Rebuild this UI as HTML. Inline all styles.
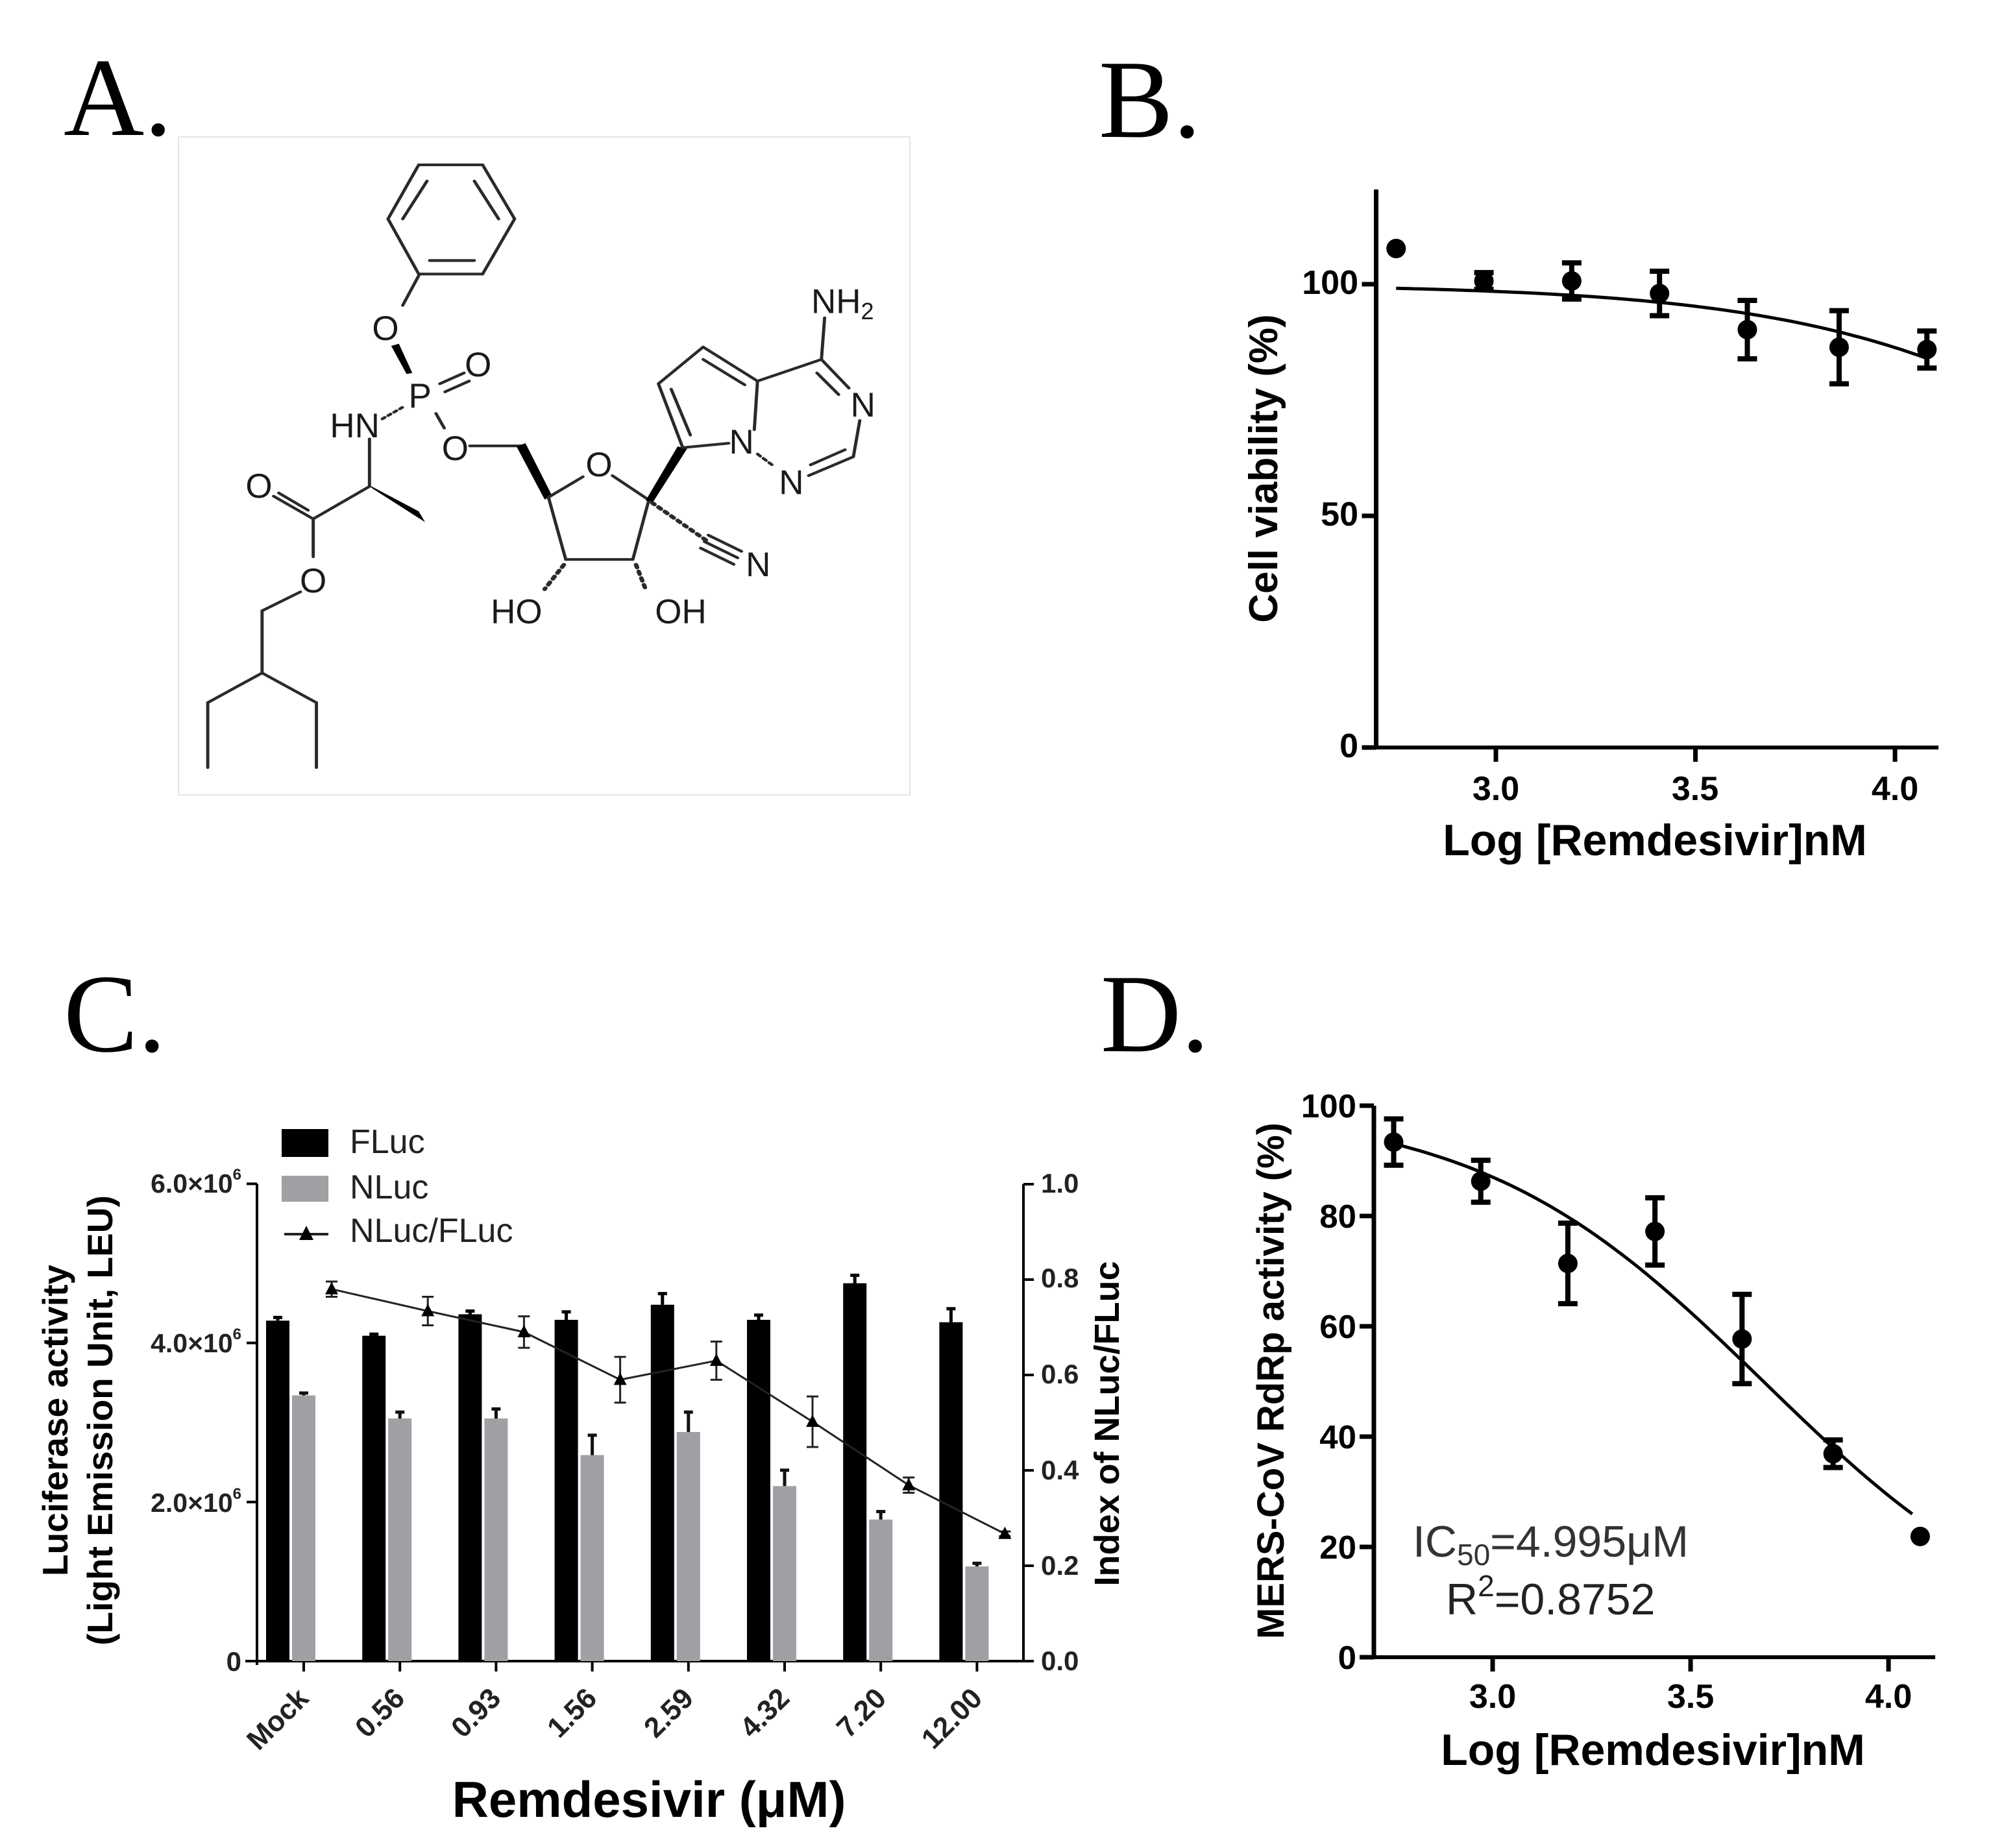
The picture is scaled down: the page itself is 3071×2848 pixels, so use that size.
<!DOCTYPE html>
<html><head><meta charset="utf-8"><title>Remdesivir figure</title>
<style>
html,body{margin:0;padding:0;background:#fff;}
svg{display:block;}
.serif{font-family:"Liberation Serif",serif;}
.sans{font-family:"Liberation Sans",sans-serif;}
.b{font-weight:bold;}
</style></head>
<body>
<svg id="fig" xmlns="http://www.w3.org/2000/svg" width="3071" height="2848" viewBox="0 0 3071 2848">
<rect x="0" y="0" width="3071" height="2848" fill="#fff"/>

<text x="98" y="208" class="serif" font-size="172" fill="#000">A.</text>
<text x="1693" y="211" class="serif" font-size="172" fill="#000">B.</text>
<text x="98" y="1620" class="serif" font-size="172" fill="#000">C.</text>
<text x="1696" y="1620" class="serif" font-size="172" fill="#000">D.</text>

<rect x="275" y="211" width="1127" height="1014" fill="#fff" stroke="#e4e4e4" stroke-width="2"/>
<g id="structure" transform="scale(0.985,0.833)" stroke="#2a2a2a" stroke-width="5" fill="none" stroke-linecap="round">
  <polygon points="655,305 755,305 805,405 755,507 655,507 607,405"/>
  <line x1="668" y1="335" x2="630" y2="405"/>
  <line x1="742" y1="335" x2="780" y2="405"/>
  <line x1="672" y1="482" x2="742" y2="482"/>
  <line x1="655" y1="510" x2="630" y2="565"/>
  <polygon points="612,640 624,636 645,690 636,692" fill="#000" stroke="none"/>
  <line x1="688" y1="710" x2="726" y2="690"/>
  <line x1="696" y1="725" x2="734" y2="705"/>
  <line x1="598" y1="775" x2="632" y2="752" stroke-dasharray="5,6"/>
  <line x1="682" y1="765" x2="695" y2="792"/>
  <line x1="735" y1="825" x2="815" y2="825"/>
  <polygon points="808,826 822,820 864,918 852,924" fill="#000" stroke="none"/>
  <line x1="858" y1="920" x2="912" y2="882"/>
  <line x1="958" y1="880" x2="1015" y2="925"/>
  <line x1="1015" y1="925" x2="990" y2="1035"/>
  <line x1="990" y1="1035" x2="885" y2="1035"/>
  <line x1="885" y1="1035" x2="858" y2="920"/>
  <line x1="882" y1="1045" x2="852" y2="1090" stroke-dasharray="5,8" stroke-width="7"/>
  <line x1="995" y1="1045" x2="1010" y2="1090" stroke-dasharray="5,8" stroke-width="7"/>
  <line x1="1020" y1="930" x2="1105" y2="1000" stroke-dasharray="5,8" stroke-width="7"/>
  <line x1="1108" y1="990" x2="1160" y2="1020"/>
  <line x1="1102" y1="1002" x2="1154" y2="1032"/>
  <line x1="1096" y1="1014" x2="1148" y2="1044"/>
  <polygon points="1010,926 1022,928 1075,830 1060,826" fill="#000" stroke="none"/>
  <line x1="1068" y1="828" x2="1030" y2="710"/>
  <line x1="1030" y1="710" x2="1100" y2="642"/>
  <line x1="1100" y1="642" x2="1185" y2="705"/>
  <line x1="1185" y1="705" x2="1180" y2="795"/>
  <line x1="1140" y1="820" x2="1070" y2="828"/>
  <line x1="1050" y1="720" x2="1080" y2="805"/>
  <line x1="1100" y1="665" x2="1165" y2="712"/>
  <line x1="1185" y1="705" x2="1285" y2="665"/>
  <line x1="1285" y1="665" x2="1328" y2="718"/>
  <line x1="1278" y1="690" x2="1312" y2="730"/>
  <line x1="1345" y1="778" x2="1335" y2="845"/>
  <line x1="1335" y1="845" x2="1265" y2="880"/>
  <line x1="1322" y1="832" x2="1268" y2="860"/>
  <line x1="1185" y1="840" x2="1210" y2="862" stroke-dasharray="6,6"/>
  <line x1="1285" y1="665" x2="1290" y2="588"/>
  <line x1="578" y1="812" x2="578" y2="900"/>
  <polygon points="575,896 583,904 665,966 655,946" fill="#000" stroke="none"/>
  <line x1="578" y1="900" x2="490" y2="960"/>
  <line x1="490" y1="960" x2="428" y2="918"/>
  <line x1="482" y1="944" x2="436" y2="912"/>
  <line x1="490" y1="960" x2="490" y2="1030"/>
  <line x1="470" y1="1095" x2="410" y2="1130"/>
  <line x1="410" y1="1130" x2="410" y2="1245"/>
  <line x1="410" y1="1245" x2="325" y2="1300"/>
  <line x1="410" y1="1245" x2="495" y2="1300"/>
  <line x1="325" y1="1300" x2="325" y2="1420"/>
  <line x1="495" y1="1300" x2="495" y2="1420"/>
  <g stroke="none" fill="#1a1a1a" class="sans" font-size="53" text-anchor="middle" dominant-baseline="central">
    <text transform="translate(603,608) scale(1.015,1.2)">O</text>
    <text transform="translate(748,675) scale(1.015,1.2)">O</text>
    <text transform="translate(657,733) scale(1.015,1.2)">P</text>
    <text transform="translate(555,788) scale(1.015,1.2)">HN</text>
    <text transform="translate(712,830) scale(1.015,1.2)">O</text>
    <text transform="translate(937,860) scale(1.015,1.2)">O</text>
    <text transform="translate(808,1132) scale(1.015,1.2)">HO</text>
    <text transform="translate(1065,1132) scale(1.015,1.2)">OH</text>
    <text transform="translate(1186,1045) scale(1.015,1.2)">N</text>
    <text transform="translate(1160,818) scale(1.015,1.2)">N</text>
    <text transform="translate(1238,893) scale(1.015,1.2)">N</text>
    <text transform="translate(1350,750) scale(1.015,1.2)">N</text>
    <text transform="translate(1318,558) scale(1.015,1.2)">NH<tspan font-size="36" dy="14">2</tspan></text>
    <text transform="translate(405,900) scale(1.015,1.2)">O</text>
    <text transform="translate(490,1075) scale(1.015,1.2)">O</text>
  </g>
</g>

<g class="sans b" fill="#000">
  <text x="2093" y="453" font-size="52" text-anchor="end">100</text>
  <text x="2093" y="810" font-size="52" text-anchor="end">50</text>
  <text x="2093" y="1167" font-size="52" text-anchor="end">0</text>
  <text x="2305" y="1233" font-size="52" text-anchor="middle">3.0</text>
  <text x="2612" y="1233" font-size="52" text-anchor="middle">3.5</text>
  <text x="2920" y="1233" font-size="52" text-anchor="middle">4.0</text>
  <text x="2550" y="1318" font-size="68" text-anchor="middle">Log [Remdesivir]nM</text>
  <text transform="translate(1968,722) rotate(-90)" font-size="62" text-anchor="middle">Cell viability (%)</text>
</g>

<g class="sans b" fill="#000">
  <text x="2090" y="2572" font-size="51" text-anchor="end">0</text>
  <text x="2090" y="2402" font-size="51" text-anchor="end">20</text>
  <text x="2090" y="2232" font-size="51" text-anchor="end">40</text>
  <text x="2090" y="2062" font-size="51" text-anchor="end">60</text>
  <text x="2090" y="1892" font-size="51" text-anchor="end">80</text>
  <text x="2090" y="1722" font-size="51" text-anchor="end">100</text>
  <text x="2300" y="2632" font-size="52" text-anchor="middle">3.0</text>
  <text x="2605" y="2632" font-size="52" text-anchor="middle">3.5</text>
  <text x="2910" y="2632" font-size="52" text-anchor="middle">4.0</text>
  <text x="2547" y="2720" font-size="68" text-anchor="middle">Log [Remdesivir]nM</text>
  <text transform="translate(1978,2128) rotate(-90)" font-size="58" text-anchor="middle">MERS-CoV RdRp activity (%)</text>
</g>
<text x="2177" y="2399" class="sans" font-size="68" fill="#333">IC<tspan font-size="46" dy="13">50</tspan><tspan dy="-13">=4.995μM</tspan></text>
<text x="2228" y="2488" class="sans" font-size="68" fill="#222">R<tspan font-size="46" dy="-28">2</tspan><tspan dy="28">=0.8752</tspan></text>

<g class="sans b" fill="#222">
  <text x="372" y="2575" font-size="42" text-anchor="end">0</text>
  <text x="372" y="2330" font-size="41" text-anchor="end">2.0×10<tspan font-size="24" dy="-20">6</tspan></text>
  <text x="372" y="2084" font-size="41" text-anchor="end">4.0×10<tspan font-size="24" dy="-20">6</tspan></text>
  <text x="372" y="1838" font-size="41" text-anchor="end">6.0×10<tspan font-size="24" dy="-20">6</tspan></text>
  <text x="1604" y="2574" font-size="42">0.0</text>
  <text x="1604" y="2427" font-size="42">0.2</text>
  <text x="1604" y="2280" font-size="42">0.4</text>
  <text x="1604" y="2132" font-size="42">0.6</text>
  <text x="1604" y="1984" font-size="42">0.8</text>
  <text x="1604" y="1838" font-size="42">1.0</text>
  <text transform="translate(478,2620) rotate(-45)" font-size="44" text-anchor="end">Mock</text>
  <text transform="translate(626,2620) rotate(-45)" font-size="44" text-anchor="end">0.56</text>
  <text transform="translate(774,2620) rotate(-45)" font-size="44" text-anchor="end">0.93</text>
  <text transform="translate(922,2620) rotate(-45)" font-size="44" text-anchor="end">1.56</text>
  <text transform="translate(1071,2620) rotate(-45)" font-size="44" text-anchor="end">2.59</text>
  <text transform="translate(1219,2620) rotate(-45)" font-size="44" text-anchor="end">4.32</text>
  <text transform="translate(1368,2620) rotate(-45)" font-size="44" text-anchor="end">7.20</text>
  <text transform="translate(1516,2620) rotate(-45)" font-size="44" text-anchor="end">12.00</text>
  <text x="1000" y="2800" font-size="78" text-anchor="middle" fill="#000">Remdesivir (μM)</text>
  <text transform="translate(104,2189) rotate(-90)" font-size="55" text-anchor="middle" fill="#000">Luciferase activity</text>
  <text transform="translate(173,2189) rotate(-90)" font-size="55" text-anchor="middle" fill="#000">(Light Emission Unit, LEU)</text>
  <text transform="translate(1724,2194) rotate(-90)" font-size="54" text-anchor="middle" fill="#000">Index of NLuc/FLuc</text>
</g>
<g>
  <rect x="434" y="1740" width="72" height="43" fill="#000"/>
  <rect x="434" y="1812" width="72" height="40" fill="#a0a0a4"/>
  <line x1="438" y1="1902" x2="506" y2="1902" stroke="#222" stroke-width="4"/>
  <polygon points="472,1889 483,1911 461,1911" fill="#000"/>
  <text x="539" y="1777" class="sans" font-size="52" fill="#222">FLuc</text>
  <text x="539" y="1847" class="sans" font-size="52" fill="#222">NLuc</text>
  <text x="539" y="1914" class="sans" font-size="52" fill="#222">NLuc/FLuc</text>
</g>
<g id="dyn"></g>

<script>
// ---- Panel B data ----
const bLogDose = [2.75, 2.97, 3.19, 3.41, 3.63, 3.86, 4.08];
const bViability = [107.7, 100.7, 100.7, 98.0, 90.2, 86.4, 85.9];
const bError = [0, 1.8, 3.9, 4.8, 6.3, 7.9, 4.0];
const bYTicks = [0, 50, 100];
const bXTicks = [3.0, 3.5, 4.0];
const bFit = [100, 0, 4.8, 1.0]; // top, bottom, logIC50, hill
// ---- Panel D data ----
const dLogDose = [2.75, 2.97, 3.19, 3.41, 3.63, 3.86, 4.08];
const dActivity = [93.4, 86.3, 71.4, 77.2, 57.7, 36.9, 21.9];
const dError = [4.2, 3.8, 7.3, 6.1, 8.1, 2.5, 0];
const dYTicks = [0, 20, 40, 60, 80, 100];
const dXTicks = [3.0, 3.5, 4.0];
const dFit = [100, 0, 3.684, 1.21];
// ---- Panel C data ----
const cCategories = ["Mock", "0.56", "0.93", "1.56", "2.59", "4.32", "7.20", "12.00"];
const cFLuc = [4.28, 4.09, 4.36, 4.29, 4.48, 4.29, 4.75, 4.26];
const cFLucErr = [0.04, 0.02, 0.04, 0.1, 0.14, 0.06, 0.1, 0.17];
const cNLuc = [3.34, 3.05, 3.05, 2.59, 2.88, 2.2, 1.78, 1.19];
const cNLucErr = [0.03, 0.08, 0.12, 0.25, 0.25, 0.2, 0.1, 0.04];
const cRatio = [0.78, 0.734, 0.69, 0.59, 0.63, 0.502, 0.369, 0.267];
const cRatioErr = [0.016, 0.03, 0.033, 0.048, 0.04, 0.053, 0.016, 0.005];
const cLeftTicks = [0, 2, 4, 6];
const cRightTicks = [0, 0.2, 0.4, 0.6, 0.8, 1.0];

const NS = 'http://www.w3.org/2000/svg';
const root = document.getElementById('dyn');
function mk(tag, attrs) {
  const e = document.createElementNS(NS, tag);
  for (const k in attrs) e.setAttribute(k, attrs[k]);
  root.appendChild(e);
  return e;
}
function hill(p, x) { return p[1] + (p[0] - p[1]) / (1 + Math.pow(10, p[3] * (x - p[2]))); }

const bx = v => 2305 + (v - 3) * 615;
const by = v => 1152 - v * 7.14;
const dx = v => 2300 + (v - 3) * 610;
const dy = v => 2554 - v * 8.5;
const cx = i => 468 + i * 148.2;
const cy1 = v => 2560 - v * 122.6;
const cy2 = v => 2560 - v * 735;

function doseChart(prefix, X, Y, xs, ys, es, yTicks, xTicks, fit, axTop, axRight, fitEnd) {
  let e;
  e = mk('line', {x1: X(2.7), y1: axTop, x2: X(2.7), y2: Y(0) + 3, stroke: '#000', 'stroke-width': 7});
  
  
  e = mk('line', {x1: X(2.7) - 3, y1: Y(0), x2: axRight, y2: Y(0), stroke: '#000', 'stroke-width': 6});
  
  
  yTicks.forEach(t => {
    const m = mk('line', {x1: X(2.7) - 22, y1: Y(t), x2: X(2.7), y2: Y(t), stroke: '#000', 'stroke-width': 7});
    
    
  });
  xTicks.forEach(t => {
    const m = mk('line', {x1: X(t), y1: Y(0), x2: X(t), y2: Y(0) + 22, stroke: '#000', 'stroke-width': 7});
    
    
  });
  let d = '';
  for (let k = 0; k <= 80; k++) {
    const xv = xs[0] + (fitEnd - xs[0]) * k / 80;
    d += (k ? 'L' : 'M') + X(xv).toFixed(1) + ',' + Y(hill(fit, xv)).toFixed(1);
  }
  e = mk('path', {d: d, fill: 'none', stroke: '#000', 'stroke-width': 5});
  
  
  xs.forEach((xv, i) => {
    if (es[i] > 0) {
      const x0 = X(xv), yt = Y(ys[i] + es[i]), yb = Y(ys[i] - es[i]);
      const g = mk('path', {d: `M${x0},${yt}L${x0},${yb}M${x0 - 15},${yt}L${x0 + 15},${yt}M${x0 - 15},${yb}L${x0 + 15},${yb}`, stroke: '#000', 'stroke-width': 8, fill: 'none'});
      
      
    }
    const c = mk('circle', {cx: X(xv), cy: Y(ys[i]), r: 15, fill: '#000'});
    
    
  });
}
doseChart('b', bx, by, bLogDose, bViability, bError, bYTicks, bXTicks, bFit, 292, 2987, 4.08);
doseChart('d', dx, dy, dLogDose, dActivity, dError, dYTicks, dXTicks, dFit, dy(100), 2982, 4.06);

let e;
e = mk('line', {x1: 396, y1: cy1(6), x2: 396, y2: 2566, stroke: '#000', 'stroke-width': 4});


e = mk('line', {x1: 1577, y1: cy2(1), x2: 1577, y2: 2562, stroke: '#000', 'stroke-width': 4});


e = mk('line', {x1: 378, y1: 2560, x2: 1579, y2: 2560, stroke: '#000', 'stroke-width': 4});


cLeftTicks.forEach(t => {
  const m = mk('line', {x1: 380, y1: cy1(t), x2: 396, y2: cy1(t), stroke: '#000', 'stroke-width': 4});
  
  
});
cRightTicks.forEach(t => {
  const m = mk('line', {x1: 1577, y1: cy2(t), x2: 1593, y2: cy2(t), stroke: '#000', 'stroke-width': 4});
  
  
});
cCategories.forEach((c, i) => {
  const m = mk('line', {x1: cx(i), y1: 2560, x2: cx(i), y2: 2576, stroke: '#000', 'stroke-width': 4});
  
  
  const xb = cx(i) - 58;
  const r1 = mk('rect', {x: xb, y: cy1(cFLuc[i]), width: 36, height: 2560 - cy1(cFLuc[i]), fill: '#000'});
  
  
  const e1 = mk('path', {d: `M${xb + 18},${cy1(cFLuc[i])}L${xb + 18},${cy1(cFLuc[i] + cFLucErr[i])}M${xb + 11},${cy1(cFLuc[i] + cFLucErr[i])}L${xb + 25},${cy1(cFLuc[i] + cFLucErr[i])}`, stroke: '#000', 'stroke-width': 5, fill: 'none'});
  
  
  const xg = cx(i) - 18;
  const r2 = mk('rect', {x: xg, y: cy1(cNLuc[i]), width: 36, height: 2560 - cy1(cNLuc[i]), fill: '#a0a0a4'});
  
  
  const e2 = mk('path', {d: `M${xg + 18},${cy1(cNLuc[i])}L${xg + 18},${cy1(cNLuc[i] + cNLucErr[i])}M${xg + 11},${cy1(cNLuc[i] + cNLucErr[i])}L${xg + 25},${cy1(cNLuc[i] + cNLucErr[i])}`, stroke: '#111', 'stroke-width': 5, fill: 'none'});
  
  
});
let rd = '';
cRatio.forEach((v, i) => { rd += (i ? 'L' : 'M') + (cx(i) + 43) + ',' + cy2(v); });
e = mk('path', {d: rd, fill: 'none', stroke: '#222', 'stroke-width': 3});


cRatio.forEach((v, i) => {
  const x0 = cx(i) + 43, yt = cy2(v + cRatioErr[i]), yb = cy2(v - cRatioErr[i]);
  const eb = mk('path', {d: `M${x0},${yt}L${x0},${yb}M${x0 - 9},${yt}L${x0 + 9},${yt}M${x0 - 9},${yb}L${x0 + 9},${yb}`, stroke: '#222', 'stroke-width': 3, fill: 'none'});
  
  
  const y0 = cy2(v);
  const tri = mk('polygon', {points: `${x0},${y0 - 11} ${x0 + 10},${y0 + 8} ${x0 - 10},${y0 + 8}`, fill: '#000'});
  
  
});
</script>
</body></html>
